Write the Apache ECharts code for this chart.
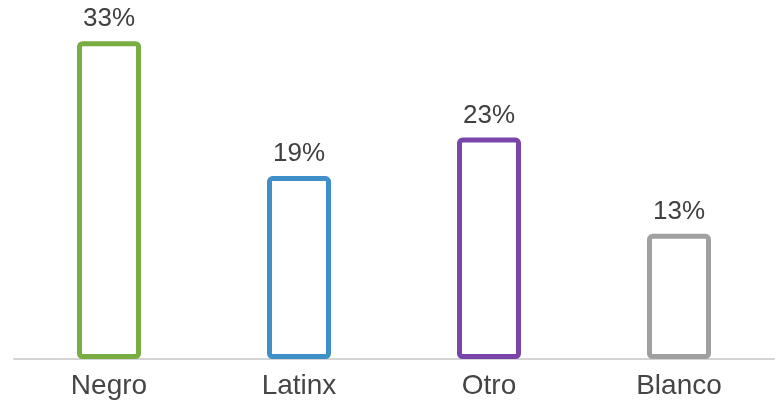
<!DOCTYPE html>
<html>
<head>
<meta charset="utf-8">
<script src="https://cdn.jsdelivr.net/npm/echarts@6/dist/echarts.min.js"></script>
<style>
  html, body { margin: 0; padding: 0; background: #fff; }
  #chart { width: 780px; height: 400px; }
</style>
</head>
<body>
<div id="chart"></div>
<script>
var categories = ['Negro', 'Latinx', 'Otro', 'Blanco'];
var values = [33, 19, 23, 13];
var bar_colors = ['#78ad41', '#3f90c8', '#7a45a8', '#a0a0a0'];

var chart = echarts.init(document.getElementById('chart'));

var bar_data = [];
for (var i = 0; i < values.length; i++) {
    bar_data.push({
        value: values[i],
        itemStyle: { borderColor: bar_colors[i] }
    });
}

var option = {
    animation: false,
    grid: {
        left: 14,
        right: 6,
        top: 22,
        bottom: 41,
        containLabel: false
    },
    xAxis: {
        type: 'category',
        data: categories,
        z: 0,
        axisLine: { lineStyle: { color: '#d4d4d4', width: 2 } },
        axisTick: { show: false },
        axisLabel: {
            color: '#454545',
            fontFamily: 'Liberation Sans',
            fontSize: 28,
            margin: 13
        }
    },
    yAxis: {
        type: 'value',
        min: 0,
        max: 35,
        show: false,
        splitLine: { show: false }
    },
    series: [{
        type: 'bar',
        barWidth: 64,
        z: 3,
        data: bar_data,
        itemStyle: {
            color: '#ffffff',
            borderWidth: 5,
            borderRadius: 3
        },
        label: {
            show: true,
            position: 'top',
            distance: 9,
            color: '#404040',
            fontFamily: 'Liberation Sans',
            fontSize: 26,
            formatter: '{c}%'
        }
    }]
};

chart.setOption(option);
</script>
</body>
</html>
